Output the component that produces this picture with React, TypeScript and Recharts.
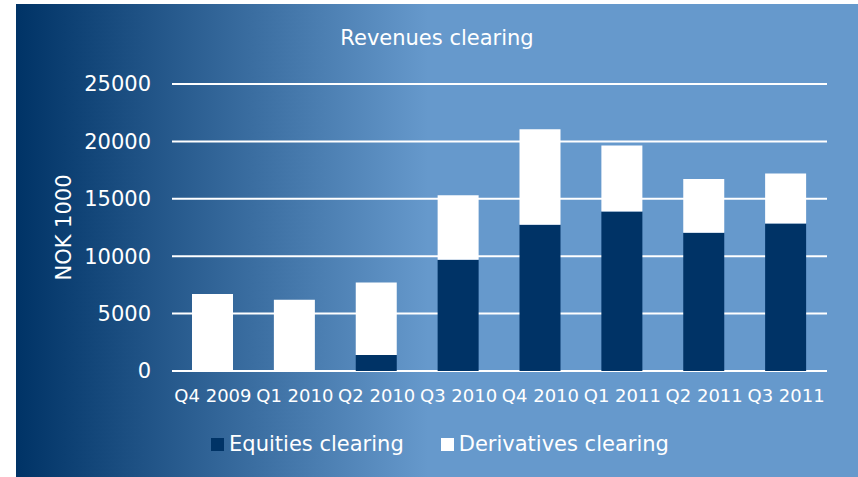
import { BarChart, Bar, XAxis, YAxis, CartesianGrid, Label } from "recharts";

const quarters = ["Q4 2009", "Q1 2010", "Q2 2010", "Q3 2010", "Q4 2010", "Q1 2011", "Q2 2011", "Q3 2011"];
const equitiesClearing = [0, 0, 1400, 9700, 12750, 13900, 12050, 12850];
const derivativesClearing = [6700, 6200, 6300, 5600, 8300, 5750, 4680, 4350];
const yTicks = [0, 5000, 10000, 15000, 20000, 25000];

const NAVY = "#003366";
const FONT = "'DejaVu Sans', Verdana, sans-serif";

const data = quarters.map((q, i) => ({
  quarter: q,
  equities: equitiesClearing[i],
  derivatives: derivativesClearing[i],
}));

// legend drawn by hand so the square/text spacing matches
const ClearingLegend = () => (
  <div
    style={{
      position: "absolute",
      top: 428,
      left: 3,
      width: 842,
      display: "flex",
      justifyContent: "center",
      alignItems: "center",
      fontFamily: FONT,
      fontSize: 21,
      color: "#fff",
    }}
  >
    <span style={{ display: "inline-block", width: 13, height: 13, background: NAVY, marginRight: 5 }} />
    <span style={{ marginRight: 37 }}>Equities clearing</span>
    <span style={{ display: "inline-block", width: 13, height: 13, background: "#fff", marginRight: 5 }} />
    <span>Derivatives clearing</span>
  </div>
);

export default function App() {
  return (
    <div style={{ position: "absolute", left: 0, top: 0, width: 858, height: 477, background: "#fff" }}>
      <div
        style={{
          position: "absolute",
          left: 16,
          top: 4,
          width: 842,
          height: 473,
          background: "linear-gradient(to right, #003366 0%, #6699cc 49%, #6699cc 100%)",
        }}
      >
        <div
          style={{
            position: "absolute",
            top: 22,
            left: 0,
            width: 842,
            textAlign: "center",
            fontFamily: FONT,
            fontSize: 21,
            color: "#fff",
          }}
        >
          Revenues clearing
        </div>
        <BarChart
          width={842}
          height={473}
          data={data}
          margin={{ top: 80, right: 31, bottom: 76, left: 0 }}
          style={{ position: "absolute", left: 0, top: 0 }}
        >
          <CartesianGrid vertical={false} stroke="#fff" strokeWidth={2} />
          <XAxis
            dataKey="quarter"
            height={30}
            axisLine={false}
            tickLine={false}
            interval={0}
            tickSize={6}
            tickMargin={12}
            tick={{ fill: "#fff", fontSize: 18, fontFamily: FONT }}
          />
          <YAxis
            width={156}
            domain={[0, 25000]}
            ticks={yTicks}
            axisLine={false}
            tickLine={false}
            tickSize={6}
            tickMargin={15}
            tick={{ fill: "#fff", fontSize: 21, fontFamily: FONT }}
          >
            <Label
              content={({ viewBox }: any) => {
                const cx = viewBox.x + 47.5;
                const cy = viewBox.y + viewBox.height / 2;
                return (
                  <text
                    x={cx}
                    y={cy}
                    transform={`rotate(-90 ${cx} ${cy})`}
                    textAnchor="middle"
                    dominantBaseline="central"
                    fill="#fff"
                    fontSize={21}
                    fontFamily={FONT}
                  >
                    NOK 1000
                  </text>
                );
              }}
            />
          </YAxis>
          <Bar dataKey="equities" name="Equities clearing" stackId="a" fill={NAVY} barSize={41} isAnimationActive={false} />
          <Bar dataKey="derivatives" name="Derivatives clearing" stackId="a" fill="#fff" barSize={41} isAnimationActive={false} />
        </BarChart>
        <ClearingLegend />
      </div>
    </div>
  );
}
